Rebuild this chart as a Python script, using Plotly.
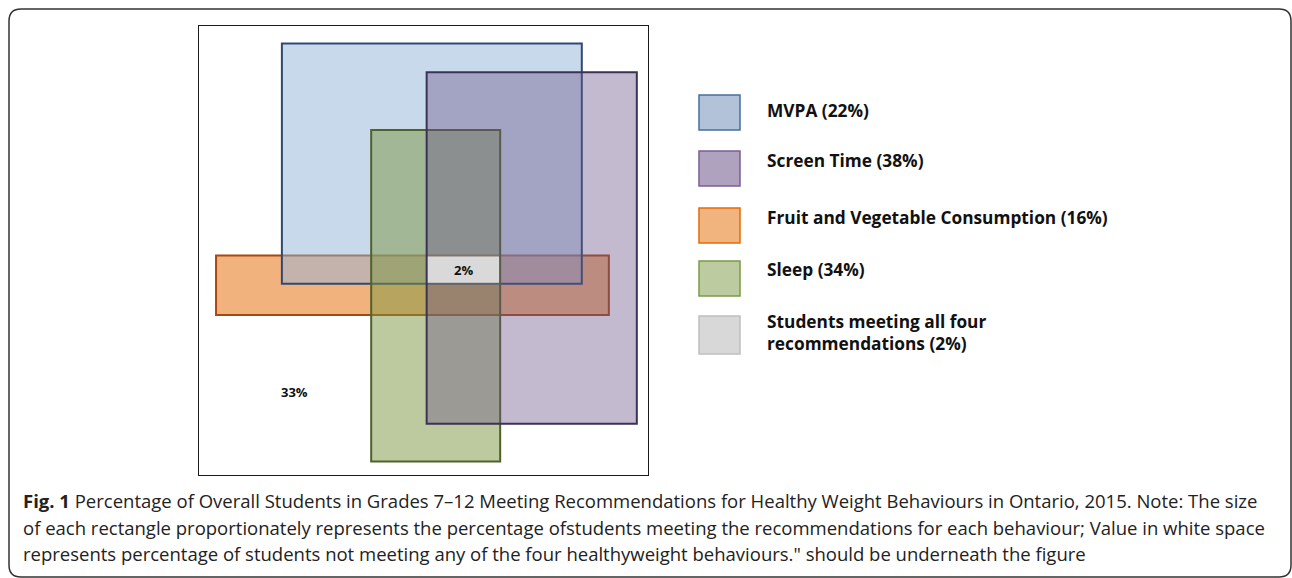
import plotly.graph_objects as go

W, H = 1292, 578

# ---- data ----
categories = ["MVPA", "Screen Time", "Fruit and Vegetable Consumption", "Sleep"]
percents = [22, 38, 16, 34]
all_four_label = "Students meeting all four recommendations"
all_four_pct = 2
none_pct = 33

# rectangle extents in diagram units (outer box = 0..100 x 0..100)
rect_x0 = [18.6, 50.7, 4.0, 38.4]
rect_x1 = [85.1, 97.3, 91.1, 67.0]
rect_y0 = [42.6, 11.6, 35.7, 3.2]
rect_y1 = [95.9, 89.5, 48.9, 76.7]
none_label_pos = (21.3, 18.7)

caption_lines = [
    "<b>Fig. 1</b> Percentage of Overall Students in Grades 7\u201312 Meeting Recommendations for Healthy Weight Behaviours in Ontario, 2015. Note: The size",
    "of each rectangle proportionately represents the percentage ofstudents meeting the recommendations for each behaviour; Value in white space",
    "represents percentage of students not meeting any of the four healthyweight behaviours.\" should be underneath the figure",
]

# ---- styles ----
fills = {
    "MVPA": "rgba(147,179,217,0.5)",
    "Screen Time": "rgba(108,83,135,0.4)",
    "Fruit and Vegetable Consumption": "rgba(242,178,126,1)",
    "Sleep": "rgba(123,149,63,0.5)",
}
lines = {
    "MVPA": "#2F4A70",
    "Screen Time": "#3C3255",
    "Fruit and Vegetable Consumption": "#A8480F",
    "Sleep": "#4F6228",
}
legend_fill = ["#B2C2D9", "#AFA2BF", "#F2B47F", "#BDCCA0", "#D8D8D8"]
legend_line = ["#46709C", "#7A5F96", "#E46C0A", "#7A9A44", "#BFBFBF"]
draw_order = ["Fruit and Vegetable Consumption", "MVPA", "Sleep", "Screen Time"]


def px(x):
    return x / W


def py(y):
    return 1 - y / H


fig = go.Figure()
fig.add_trace(go.Scatter(x=[0, 100], y=[0, 100], mode="markers",
                         marker=dict(opacity=0), hoverinfo="skip", showlegend=False))

shapes = []
# outer box
shapes.append(dict(type="rect", xref="x", yref="y", x0=0, x1=100, y0=0, y1=100,
                   line=dict(color="#1a1a1a", width=2), fillcolor="rgba(0,0,0,0)", layer="below"))

for name in draw_order:
    i = categories.index(name)
    shapes.append(dict(type="rect", xref="x", yref="y",
                       x0=rect_x0[i], x1=rect_x1[i], y0=rect_y0[i], y1=rect_y1[i],
                       fillcolor=fills[name], line=dict(color=lines[name], width=2)))

# intersection of all four
ix0, ix1 = max(rect_x0), min(rect_x1)
iy0, iy1 = max(rect_y0), min(rect_y1)
inset = 0.25
shapes.append(dict(type="rect", xref="x", yref="y",
                   x0=ix0 + inset, x1=ix1 - inset, y0=iy0 + inset, y1=iy1 - inset,
                   fillcolor="#D9D9D9", line=dict(width=0)))

annotations = []
annotations.append(dict(x=(ix0 + ix1) / 2, y=(iy0 + iy1) / 2, xref="x", yref="y",
                        text=f"<b>{all_four_pct}%</b>", showarrow=False,
                        font=dict(family="Open Sans", size=13, color="#111")))
annotations.append(dict(x=none_label_pos[0], y=none_label_pos[1], xref="x", yref="y",
                        text=f"<b>{none_pct}%</b>", showarrow=False,
                        font=dict(family="Open Sans", size=13, color="#111")))

# legend
legend_labels = [f"{c} ({p}%)" for c, p in zip(categories, percents)]
legend_labels.append("Students meeting all four<br>recommendations (2%)")
box_tops = [95, 151, 208, 261, 316]
box_h = [35, 35, 35, 35, 38]
text_y = [110, 161, 217, 269, 332]
for k, lab in enumerate(legend_labels):
    shapes.append(dict(type="rect", xref="paper", yref="paper",
                       x0=px(699), x1=px(740), y0=py(box_tops[k] + box_h[k]), y1=py(box_tops[k]),
                       fillcolor=legend_fill[k], line=dict(color=legend_line[k], width=1.5)))
    annotations.append(dict(x=px(765), y=py(text_y[k]), xref="paper", yref="paper",
                            xanchor="left", yanchor="middle", align="left",
                            text=f"<b>{lab}</b>", showarrow=False,
                            font=dict(family="Open Sans", size=17.3, color="#111")))

# caption
cap_y = [500, 527, 553]
for k, line in enumerate(caption_lines):
    annotations.append(dict(x=px(21), y=py(cap_y[k]), xref="paper", yref="paper",
                            xanchor="left", yanchor="middle", align="left",
                            text=line, showarrow=False,
                            font=dict(family="Open Sans", size=18.5, color="#222")))

# rounded frame
L, T, R, B, r = 9, 9, 1291, 577, 12
path = (f"M {px(L)} {py(T + r)} Q {px(L)} {py(T)} {px(L + r)} {py(T)} "
        f"L {px(R - r)} {py(T)} Q {px(R)} {py(T)} {px(R)} {py(T + r)} "
        f"L {px(R)} {py(B - r)} Q {px(R)} {py(B)} {px(R - r)} {py(B)} "
        f"L {px(L + r)} {py(B)} Q {px(L)} {py(B)} {px(L)} {py(B - r)} Z")
shapes.append(dict(type="path", xref="paper", yref="paper", path=path,
                   line=dict(color="#333", width=1.5), fillcolor="rgba(0,0,0,0)"))

fig.update_layout(
    width=W, height=H, margin=dict(l=0, r=0, t=0, b=0),
    paper_bgcolor="white", plot_bgcolor="white",
    xaxis=dict(domain=[px(198), px(649)], range=[0, 100], visible=False, fixedrange=True),
    yaxis=dict(domain=[py(476), py(25)], range=[0, 100], visible=False, fixedrange=True),
    shapes=shapes, annotations=annotations, showlegend=False,
)

fig.write_html("out.html", config={"displayModeBar": False},
               post_script="document.body.style.margin='0';document.body.style.overflow='hidden';")
